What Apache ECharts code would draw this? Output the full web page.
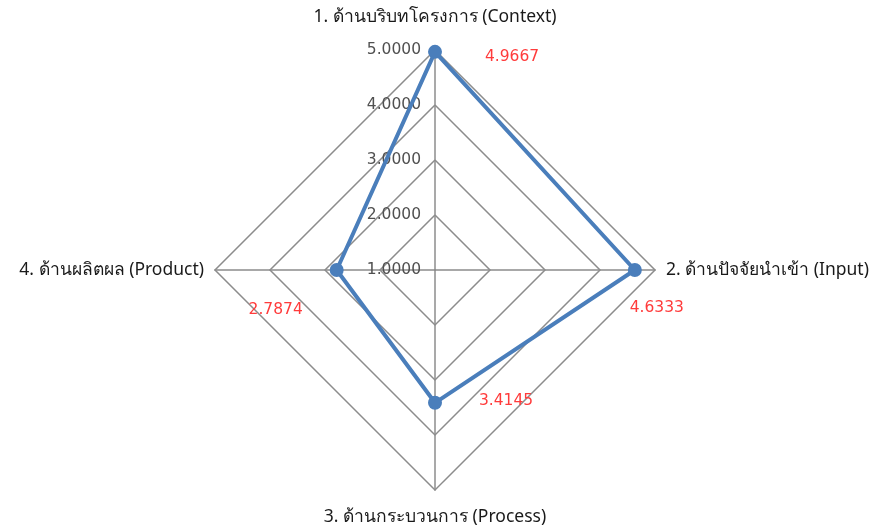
<!DOCTYPE html>
<html>
<head>
<meta charset="utf-8">
<script src="https://cdn.jsdelivr.net/npm/echarts@6/dist/echarts.min.js"></script>
<style>html,body{margin:0;padding:0;background:#fff;}#c{width:875px;height:529px;}</style>
</head>
<body>
<div id="c"></div>
<script>
// Original order: 1 Context, 2 Input, 3 Process, 4 Product
var categories = ['1. ด้านบริบทโครงการ (Context)', '2. ด้านปัจจัยนำเข้า (Input)', '3. ด้านกระบวนการ (Process)', '4. ด้านผลิตผล (Product)'];
var values = [4.9667, 4.6333, 3.4145, 2.7874];
var tickLabels = ['1.0000', '2.0000', '3.0000', '4.0000', '5.0000'];
var axisMin = 1, axisMax = 5;

// ECharts places indicators counter-clockwise from the top; reorder so they read clockwise
var order = [0, 3, 2, 1];
// label shifts (padding) per original index: [top, right, bottom, left]
var labelPad = [[10, 0, 0, 154], [76, 0, 0, 44], [0, 0, 4, 142], [80, 122, 0, 0]];
var nameGaps = [24, 11, 18, 11];

var font = '"Noto Sans", "Liberation Sans", sans-serif';
var numFont = '"DejaVu Sans", "Noto Sans", sans-serif';
var rich = {};
order.forEach(function (oi) {
  rich['d' + oi] = { color: '#ff3b3b', fontSize: 15.5, fontFamily: numFont, padding: labelPad[oi] };
});

var indicator = order.map(function (oi, k) {
  var ind = { name: categories[oi], min: axisMin, max: axisMax, nameGap: nameGaps[oi] };
  if (k === 0) {
    ind.axisLabel = {
      show: true, color: '#505050', fontSize: 15.5, fontFamily: numFont, margin: 14,
      formatter: function (v) {
        var i = Math.round(v - axisMin);
        return tickLabels[i] !== undefined ? tickLabels[i] : '';
      }
    };
  }
  return ind;
});

var chart = echarts.init(document.getElementById('c'), null, { renderer: 'canvas' });
chart.setOption({
  animation: false,
  radar: {
    center: [435, 270],
    radius: 220,
    startAngle: 90,
    shape: 'polygon',
    splitNumber: 4,
    indicator: indicator,
    nameGap: 12,
    axisName: { color: '#1a1a1a', fontSize: 17.5, fontFamily: font },
    axisLine: { lineStyle: { color: '#8c8c8c', width: 1.5 } },
    splitLine: { lineStyle: { color: '#8c8c8c', width: 1.5 } },
    splitArea: { show: false },
    axisTick: { show: false },
    axisLabel: { show: false }
  },
  series: [{
    type: 'radar',
    symbol: 'circle',
    symbolSize: 14,
    lineStyle: { color: '#4a7ebb', width: 4 },
    itemStyle: { color: '#4a7ebb' },
    label: {
      show: true,
      position: 'inside',
      formatter: function (p) {
        var oi = values.indexOf(p.value);
        return '{d' + oi + '|' + p.value.toFixed(4) + '}';
      },
      rich: rich
    },
    data: [{ value: order.map(function (oi) { return values[oi]; }) }]
  }]
});
</script>
</body>
</html>
